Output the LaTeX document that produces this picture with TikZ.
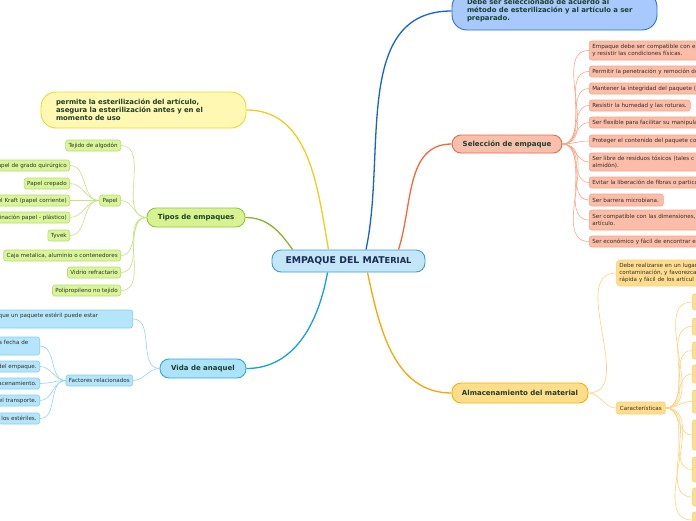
\documentclass[tikz,border=0pt]{standalone}
\usepackage{fontspec}
\setmainfont{DejaVu Sans}
\definecolor{centfill}{HTML}{C4E6F9}\definecolor{centdraw}{HTML}{3F9AD6}\definecolor{centtxt}{HTML}{1A2B55}
\definecolor{bluefill}{HTML}{A8C9FB}\definecolor{bluedraw}{HTML}{2A6FE2}\definecolor{bluecon}{HTML}{1562D6}
\definecolor{salfill}{HTML}{F9BFAD}\definecolor{salmaindraw}{HTML}{E96A45}\definecolor{salcon}{HTML}{F26A3A}
\definecolor{salsfill}{HTML}{FBBCA8}\definecolor{salsdraw}{HTML}{F5A68D}\definecolor{salccon}{HTML}{F8A88C}
\definecolor{yelfill}{HTML}{FFF8B2}\definecolor{yeldraw}{HTML}{EED62C}\definecolor{yelcon}{HTML}{E9D11C}
\definecolor{grnfill}{HTML}{D7F390}\definecolor{grndraw}{HTML}{8FC641}\definecolor{grncon}{HTML}{8AB42F}
\definecolor{grnsfill}{HTML}{D9F59A}\definecolor{grnsdraw}{HTML}{B6DD6E}\definecolor{grnccon}{HTML}{C4E383}
\definecolor{cyafill}{HTML}{ACE2FA}\definecolor{cyadraw}{HTML}{2EA7E6}\definecolor{cyacon}{HTML}{15A0E2}
\definecolor{cyasfill}{HTML}{B5E5FA}\definecolor{cyasdraw}{HTML}{82CFF2}\definecolor{cyaccon}{HTML}{92D5F4}
\definecolor{orfill}{HTML}{FFDD8A}\definecolor{ordraw}{HTML}{F3B300}\definecolor{orcon}{HTML}{F6A900}
\definecolor{orsfill}{HTML}{FFDC8E}\definecolor{orsdraw}{HTML}{FED074}\definecolor{orccon}{HTML}{FFD27C}
\definecolor{maintxt}{HTML}{1C3F2E}\definecolor{smalltxt}{HTML}{2F2F28}
\newcommand\fbigm{\fontsize{9.3}{10}\selectfont\bfseries}
\newcommand\fmainm{\fontsize{7}{8}\selectfont\bfseries}
\newcommand\fnote{\fontsize{6.9}{8}\selectfont\bfseries}
\newcommand\fsm{\fontsize{5.6}{7}\selectfont}
\tikzset{
  mainbox/.style={draw, line width=0.9pt, rounded corners=9pt, font=\fmainm, text=maintxt, inner sep=0pt, align=center},
  notebox/.style={draw, line width=0.9pt, rounded corners=15pt, font=\fnote, text=maintxt, inner xsep=0pt, inner ysep=0pt, align=left},
  smallbox/.style={draw, line width=0.6pt, rounded corners=2.5pt, font=\fsm, text=smalltxt, inner xsep=3pt, inner ysep=0pt, minimum height=11pt},
  sal/.style={smallbox, fill=salsfill, draw=salsdraw, anchor=west, align=left},
  grn/.style={smallbox, fill=grnsfill, draw=grnsdraw, anchor=east, align=right},
  cya/.style={smallbox, fill=cyasfill, draw=cyasdraw, anchor=east, align=right},
  ors/.style={smallbox, fill=orsfill, draw=orsdraw, anchor=west, align=left},
  maincon/.style={line width=1.3pt},
  childcon/.style={line width=0.6pt},
}
\begin{document}
\begin{tikzpicture}[x=1pt,y=1pt]
\useasboundingbox (0,0) rectangle (696,-520);
\fill[white] (0,0) rectangle (696,-520);

% central
\node[mainbox, fill=centfill, draw=centdraw, text=centtxt, font=\fbigm, minimum width=153pt, minimum height=22pt] (c) at (348.5,-261) {EMPAQUE DEL MAT{\fontsize{8.3}{9}\selectfont ERIAL}};

% top blue
\node[notebox, fill=bluefill, draw=bluedraw, minimum width=205pt, minimum height=38pt, text width=175pt] (tb) at (554.5,-11) {Debe ser seleccionado de acuerdo al\\método de esterilización y al artículo a ser\\preparado.};

% seleccion
\node[mainbox, fill=salfill, draw=salmaindraw, minimum width=110pt, minimum height=18pt] (sel) at (507,-144) {Selección de empaque};
\node[sal, text width=140pt, minimum height=19pt] (s1) at (589,-50.5) {Empaque debe ser compatible con el\\y resistir las condiciones físicas.};
\node[sal, text width=140pt] (s2) at (589,-71.5) {Permitir la penetración y remoción de};
\node[sal, text width=140pt] (s3) at (589,-88.5) {Mantener la integridad del paquete (c};
\node[sal, text width=95pt] (s4) at (589,-105.5) {Resistir la humedad y las roturas.};
\node[sal, text width=140pt] (s5) at (589,-122.5) {Ser flexible para facilitar su manipula};
\node[sal, text width=140pt, minimum height=12pt] (s6) at (589,-141) {Proteger el contenido del paquete co};
\node[sal, text width=140pt, minimum height=18pt] (s7) at (589,-162) {Ser libre de residuos tóxicos (tales c\\almidón).};
\node[sal, text width=140pt] (s8) at (589,-182.5) {Evitar la liberación de fibras o particu};
\node[sal, text width=68pt, minimum height=12pt] (s9) at (589,-200) {Ser barrera microbiana.};
\node[sal, text width=140pt, minimum height=20pt] (s10) at (589,-220) {Ser compatible con las dimensiones,\\artículo.};
\node[sal, text width=140pt] (s11) at (589,-241.5) {Ser económico y fácil de encontrar en};

% yellow note
\node[notebox, fill=yelfill, draw=yeldraw, minimum width=205pt, minimum height=36pt, text width=175pt] (yl) at (143.5,-110) {permite la esterilización del artículo,\\asegura la esterilización antes y en el\\momento de uso};

% tipos
\node[mainbox, fill=grnfill, draw=grndraw, minimum width=98pt, minimum height=19pt] (tip) at (196,-217.5) {Tipos de empaques};
\node[grn] (g1) at (121,-145.5) {Tejido de algodón};
\node[grn] (pap) at (121,-200.5) {Papel};
\node[grn] (g3) at (121,-255.5) {Caja metalica, aluminio o contenedores};
\node[grn] (g4) at (121,-272.5) {Vidrio refractario};
\node[grn] (g5) at (121,-290.5) {Polipropileno no tejido};
\node[grn] (p1) at (70,-165.5) {apel de grado quirúrgico};
\node[grn] (p2) at (70,-183.5) {Papel crepado};
\node[grn] (p3) at (70,-200.5) {el Kraft (papel corriente)};
\node[grn] (p4) at (70,-217.5) {inación papel - plástico)};
\node[grn] (p5) at (70,-235.5) {Tyvek};

% vida
\node[mainbox, fill=cyafill, draw=cyadraw, minimum width=86pt, minimum height=19pt] (vid) at (203,-368.5) {Vida de anaquel};
\node[cya, minimum height=18pt, text width=131pt, align=left] (v1) at (133,-319) {que un paquete estéril puede estar\\\mbox{}};
\node[cya] (fac) at (133,-380.5) {Factores relacionados};
\node[cya, minimum height=18pt, text width=38pt, align=left] (f1) at (40,-346) {a fecha de\\\mbox{}};
\node[cya] (f2) at (40,-366.5) {del empaque.};
\node[cya] (f3) at (40,-383.5) {acenamiento.};
\node[cya] (f4) at (40,-400.5) {el transporte.};
\node[cya] (f5) at (40,-418.5) {los estériles.};

% almacenamiento
\node[mainbox, fill=orfill, draw=ordraw, minimum width=136pt, minimum height=20pt] (alm) at (520,-393) {Almacenamiento del material};
\node[ors, text width=140pt, minimum height=26pt, rounded corners=4pt] (a1) at (616,-273) {Debe realizarse en un lugar\\contaminación, y favorezca\\rápida y fácil de los artícul};
\node[ors, minimum height=12pt, inner xsep=0pt, minimum width=49pt, align=center] (car) at (616,-408) {Características};
\foreach \n/\ya/\yb in {k1/294/310,k2/318/335,k3/342/359,k4/365/383,k5/390/413,k6/420/450,k7/457/482,k8/488/506,k9/512/528}{
  \node[ors, minimum width=20pt, minimum height={\yb-\ya}] (\n) at (692,{-(\ya+\yb)/2}) {};
}

% main connectors
\draw[maincon, bluecon] ([xshift=17.5pt]c.north) to[out=78,in=180] (tb.west);
\draw[maincon, salcon] ([xshift=50pt]c.north) to[out=72,in=180] (sel.west);
\draw[maincon, yelcon] ([xshift=-20pt]c.north) to[out=100,in=0] (yl.east);
\draw[maincon, grncon] ([xshift=-56pt]c.north) to[out=125,in=0] (tip.east);
\draw[maincon, cyacon] ([xshift=-21pt]c.south) to[out=-100,in=0] (vid.east);
\draw[maincon, orcon] ([xshift=19pt]c.south) to[out=-78,in=180] (alm.west);

% child connectors
\foreach \n in {s1,s2,s3,s4,s5,s6,s7,s8,s9,s10,s11}
  \draw[childcon, salccon] (sel.east) to[out=0,in=180] (\n.west);
\foreach \n in {g1,pap,g3,g4,g5}
  \draw[childcon, grnccon] (tip.west) to[out=180,in=0] (\n.east);
\foreach \n in {p1,p2,p3,p4,p5}
  \draw[childcon, grnccon] (pap.west) to[out=180,in=0] (\n.east);
\foreach \n in {v1,fac}
  \draw[childcon, cyaccon] (vid.west) to[out=180,in=0] (\n.east);
\foreach \n in {f1,f2,f3,f4,f5}
  \draw[childcon, cyaccon] (fac.west) to[out=180,in=0] (\n.east);
\foreach \n in {a1,car}
  \draw[childcon, orccon] (alm.east) to[out=0,in=180] (\n.west);
\foreach \n in {k1,k2,k3,k4,k5,k6,k7,k8,k9}
  \draw[childcon, orccon] (car.east) to[out=0,in=180] (\n.west);
\end{tikzpicture}
\end{document}
